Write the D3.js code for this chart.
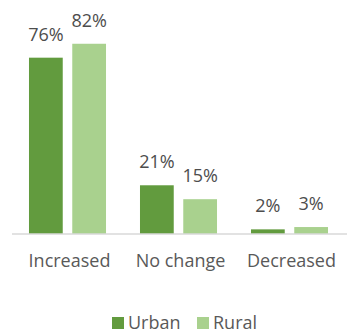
<!DOCTYPE html>
<html>
<head>
<meta charset="utf-8">
<script src="https://cdn.jsdelivr.net/npm/d3@7"></script>
<style>
  body { margin: 0; background: #fff; }
  text { font-family: "Open Sans", sans-serif; fill: #595959; }
</style>
</head>
<body>
<script>
// chart values
const categories = ["Increased", "No change", "Decreased"];
const seriesNames = ["Urban", "Rural"];
const urban = [76, 21, 2];
const rural = [82, 15, 3];
const colors = ["#629b3e", "#a9d18e"];

const width = 353, height = 334;
const baseline = 234;

const svg = d3.select("body").append("svg")
    .attr("width", width)
    .attr("height", height);

// outer band for groups
const x0 = d3.scaleBand()
    .domain(categories)
    .range([12, 345])
    .paddingInner(0.306)
    .paddingOuter(0.153);

const x1 = d3.scaleBand()
    .domain(seriesNames)
    .range([0, x0.bandwidth()])
    .paddingInner(0.22);

const y = d3.scaleLinear()
    .domain([0, 100])
    .range([baseline, baseline - 232]);

const rows = categories.map((c, i) => ({
    cat: c,
    vals: [{ s: "Urban", v: urban[i] }, { s: "Rural", v: rural[i] }]
}));

const color = d3.scaleOrdinal().domain(seriesNames).range(colors);

const group = svg.append("g")
    .selectAll("g")
    .data(rows)
    .enter().append("g")
    .attr("transform", d => `translate(${x0(d.cat)},0)`);

group.selectAll("rect")
    .data(d => d.vals)
    .enter().append("rect")
    .attr("x", d => x1(d.s))
    .attr("y", d => y(d.v))
    .attr("width", x1.bandwidth())
    .attr("height", d => baseline - y(d.v))
    .attr("fill", d => color(d.s));

group.selectAll("text")
    .data(d => d.vals)
    .enter().append("text")
    .attr("x", d => x1(d.s) + x1.bandwidth() / 2)
    .attr("y", d => y(d.v) - 17)
    .attr("text-anchor", "middle")
    .style("font-size", "18px")
    .style("fill", "#4d4d4d")
    .text(d => d.v + "%");

// axis line + category labels
const xAxis = svg.append("g")
    .attr("transform", `translate(0,${baseline})`)
    .call(d3.axisBottom(x0).tickSize(0).tickPadding(20));
xAxis.select(".domain").attr("stroke", "#d9d9d9").attr("stroke-width", 1.5)
    .attr("d", "M12,0H347");
xAxis.selectAll("text").style("font-size", "18px").attr("fill", "#595959")
    .attr("dx", 2);

// legend (kept just inside the bottom edge)
const legendItems = [{ s: "Urban", x: 112 }, { s: "Rural", x: 197 }];
const legend = svg.append("g")
    .selectAll("g")
    .data(legendItems)
    .enter().append("g")
    .attr("transform", d => `translate(${d.x},317)`);
legend.append("rect")
    .attr("width", 12).attr("height", 12)
    .attr("fill", d => color(d.s));
legend.append("text")
    .attr("x", 16).attr("y", 12)
    .style("font-size", "18px")
    .text(d => d.s);
</script>
</body>
</html>
